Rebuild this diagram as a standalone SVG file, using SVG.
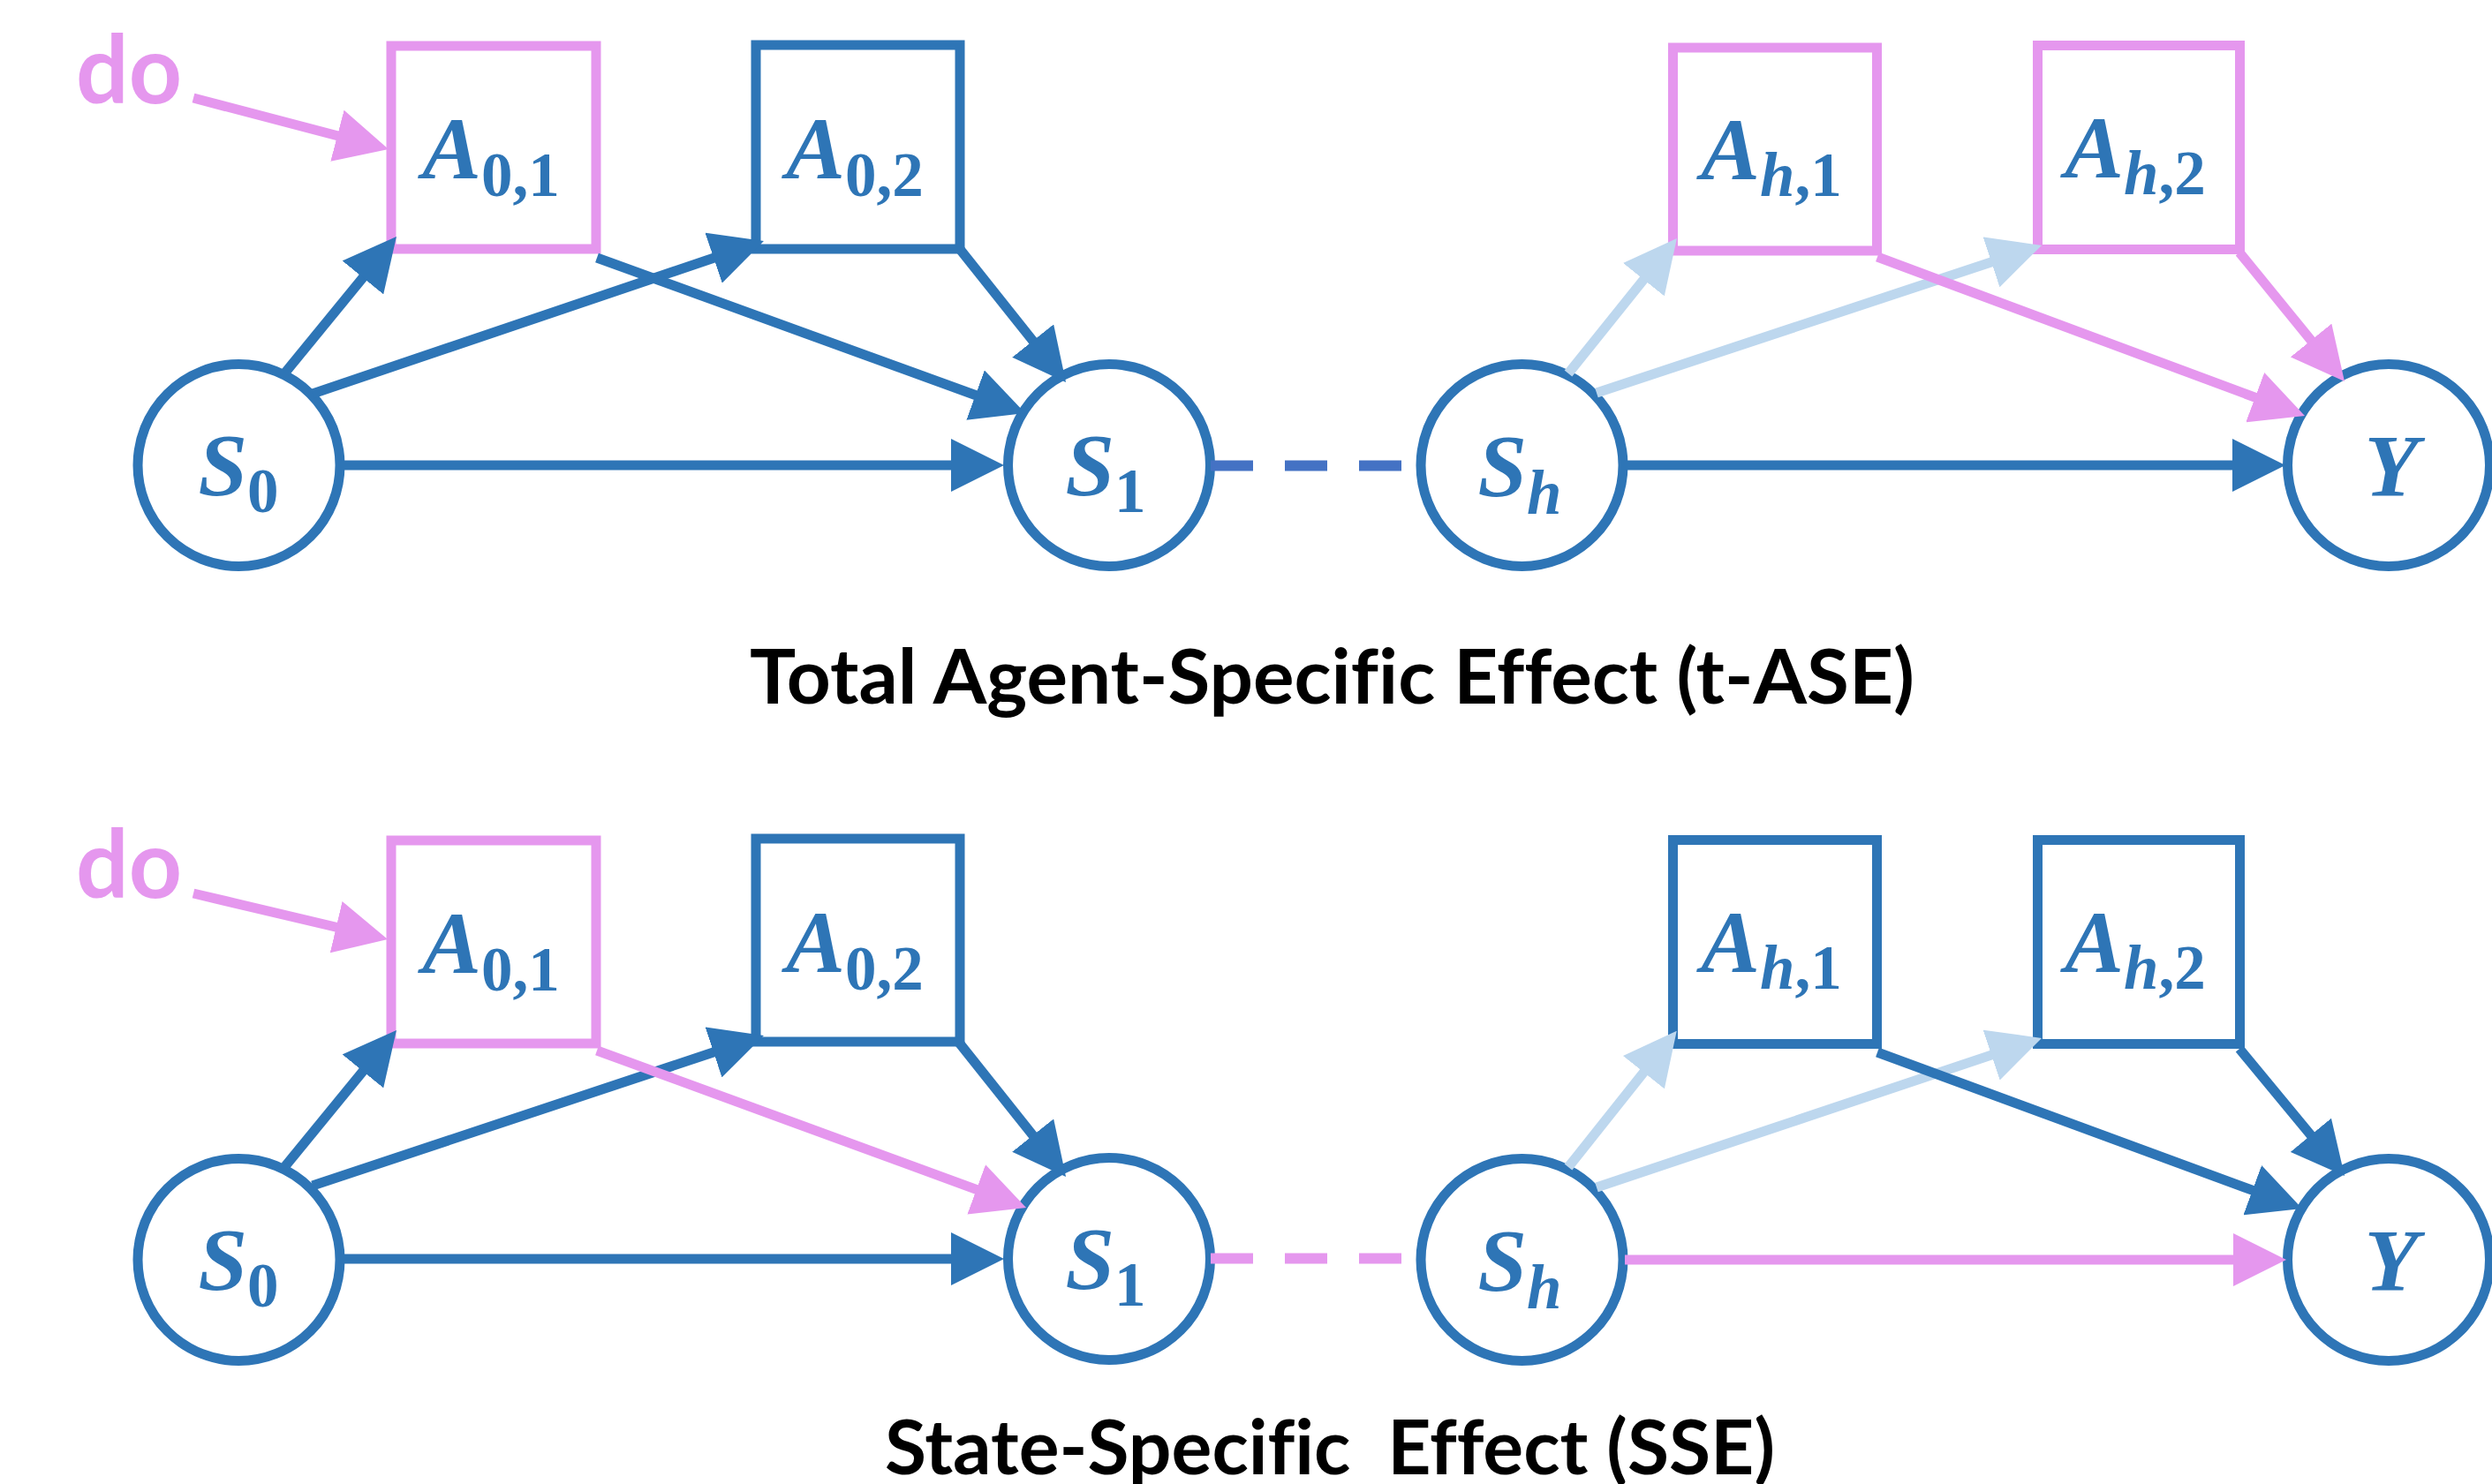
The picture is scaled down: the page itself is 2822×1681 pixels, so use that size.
<svg xmlns="http://www.w3.org/2000/svg" width="2822" height="1681" viewBox="0 0 2822 1681">
  <style>
    .state { fill: #FFFFFF; stroke: #2E75B6; stroke-width: 11; }
    .act { fill: #FFFFFF; stroke-width: 11; }
    .act.blue { stroke: #2E75B6; }
    .act.pink { stroke: #E597EE; }
    .lbl { font-family: "Liberation Serif", "DejaVu Serif", serif; font-weight: bold; font-style: italic; font-size: 100px; fill: #2E75B6; text-anchor: middle; }
    .sub { font-size: 71px; font-style: normal; }
    .subi { font-size: 71px; font-style: italic; }
    .edge { fill: none; stroke-width: 11; }
    .e-blue { stroke: #2E75B6; }
    .e-pink { stroke: #E597EE; }
    .e-light { stroke: #BDD7EE; }
    .dash { fill: none; stroke-width: 12; stroke-dasharray: 48 36; }
    .do { font-family: Lato, "Open Sans", "Liberation Sans", sans-serif; font-weight: bold; font-size: 108px; fill: #E597EE; }
    .title { font-family: Lato, "Open Sans", "Liberation Sans", sans-serif; font-weight: bold; font-size: 87px; fill: #000000; font-variant-ligatures: none; font-feature-settings: "liga" 0, "clig" 0; }
  </style>
  <defs>
    <marker id="ah-blue" viewBox="0 0 60 60" markerWidth="60" markerHeight="60" markerUnits="userSpaceOnUse" refX="10" refY="30" orient="auto">
      <path d="M0,0 L60,30 L0,60 Z" fill="#2E75B6"/>
    </marker>
    <marker id="ah-pink" viewBox="0 0 60 60" markerWidth="60" markerHeight="60" markerUnits="userSpaceOnUse" refX="10" refY="30" orient="auto">
      <path d="M0,0 L60,30 L0,60 Z" fill="#E597EE"/>
    </marker>
    <marker id="ah-light" viewBox="0 0 60 60" markerWidth="60" markerHeight="60" markerUnits="userSpaceOnUse" refX="10" refY="30" orient="auto">
      <path d="M0,0 L60,30 L0,60 Z" fill="#BDD7EE"/>
    </marker>
  </defs>

  <rect width="2822" height="1681" fill="#FFFFFF"/>

  <!-- ===== Upper panel: t-ASE ===== -->
  <g id="top-nodes">
    <g id="t-S0"><circle class="state" cx="270.5" cy="527" r="114.5"/>
      <text class="lbl" x="270" y="560">S<tspan class="sub" dy="20">0</tspan></text></g>
    <g id="t-S1"><circle class="state" cx="1256" cy="527" r="114.5"/>
      <text class="lbl" x="1252" y="560">S<tspan class="sub" dy="20">1</tspan></text></g>
    <g id="t-Sh"><circle class="state" cx="1723.5" cy="527" r="114.5"/>
      <text class="lbl" x="1721" y="561">S<tspan class="subi" dy="21">h</tspan></text></g>
    <g id="t-Y"><circle class="state" cx="2705" cy="527" r="114.5"/>
      <text class="lbl" x="2708" y="561">Y</text></g>
    <g id="t-A01"><rect class="act pink" x="443" y="52" width="232" height="230"/>
      <text class="lbl" x="556" y="202">A<tspan class="sub" dy="20">0,1</tspan></text></g>
    <g id="t-A02"><rect class="act blue" x="856" y="51" width="231" height="231"/>
      <text class="lbl" x="968" y="202">A<tspan class="sub" dy="20">0,2</tspan></text></g>
    <g id="t-Ah1"><rect class="act pink" x="1894.5" y="54" width="231" height="230"/>
      <text class="lbl" x="2006" y="203">A<tspan class="subi" dy="19">h</tspan><tspan class="sub">,1</tspan></text></g>
    <g id="t-Ah2"><rect class="act pink" x="2307.5" y="51.5" width="229" height="231"/>
      <text class="lbl" x="2418" y="201">A<tspan class="subi" dy="19">h</tspan><tspan class="sub">,2</tspan></text></g>
    <g id="t-do"><text class="do" x="86" y="117" textLength="120" lengthAdjust="spacingAndGlyphs">do</text></g>
  </g>

  <g id="top-edges">
    <path class="edge e-light" d="M1776,423 L1867.6,308.9" marker-end="url(#ah-light)"/>
    <path class="edge e-light" d="M1808,445 L2264.5,293.7" marker-end="url(#ah-light)"/>
    <path class="edge e-pink" d="M219,111 L391.6,156.3" marker-end="url(#ah-pink)"/>
    <path class="edge e-blue" d="M323,422 L417.3,306.7" marker-end="url(#ah-blue)"/>
    <path class="edge e-blue" d="M354,446 L817.6,289" stroke-width="12" marker-end="url(#ah-blue)"/>
    <path class="edge e-blue" d="M676,292 L1114,451" marker-end="url(#ah-blue)"/>
    <path class="edge e-blue" d="M1086,281 L1175.9,393.9" marker-end="url(#ah-blue)"/>
    <path class="edge e-blue" d="M385,527 L1087,527" marker-end="url(#ah-blue)"/>
    <path class="dash" stroke="#4472C4" d="M1371,527.5 H1590"/>
    <path class="edge e-pink" d="M2126,291 L2563.1,453.6" marker-end="url(#ah-pink)"/>
    <path class="edge e-pink" d="M2536,286 L2623.4,393.3" marker-end="url(#ah-pink)"/>
    <path class="edge e-blue" d="M1840,527 L2538,527" marker-end="url(#ah-blue)"/>
  </g>

  <text id="title-top" class="title" x="849" y="797" textLength="1319" lengthAdjust="spacingAndGlyphs">Total Agent-Specific Effect (t-ASE)</text>

  <!-- ===== Lower panel: SSE ===== -->
  <g id="bottom-nodes">
    <g id="b-S0"><circle class="state" cx="270.5" cy="1427" r="114.5"/>
      <text class="lbl" x="270" y="1460">S<tspan class="sub" dy="20">0</tspan></text></g>
    <g id="b-S1"><circle class="state" cx="1256" cy="1426" r="114.5"/>
      <text class="lbl" x="1252" y="1459">S<tspan class="sub" dy="20">1</tspan></text></g>
    <g id="b-Sh"><circle class="state" cx="1723.5" cy="1427" r="114.5"/>
      <text class="lbl" x="1721" y="1461">S<tspan class="subi" dy="21">h</tspan></text></g>
    <g id="b-Y"><circle class="state" cx="2705" cy="1427" r="114.5"/>
      <text class="lbl" x="2708" y="1461">Y</text></g>
    <g id="b-A01"><rect class="act pink" x="443" y="952" width="232" height="230"/>
      <text class="lbl" x="556" y="1102">A<tspan class="sub" dy="20">0,1</tspan></text></g>
    <g id="b-A02"><rect class="act blue" x="856" y="950" width="231" height="230"/>
      <text class="lbl" x="968" y="1101">A<tspan class="sub" dy="20">0,2</tspan></text></g>
    <g id="b-Ah1"><rect class="act blue" x="1894.5" y="951.5" width="231" height="231"/>
      <text class="lbl" x="2006" y="1101">A<tspan class="subi" dy="19">h</tspan><tspan class="sub">,1</tspan></text></g>
    <g id="b-Ah2"><rect class="act blue" x="2307.5" y="951.5" width="229" height="231"/>
      <text class="lbl" x="2418" y="1101">A<tspan class="subi" dy="19">h</tspan><tspan class="sub">,2</tspan></text></g>
    <g id="b-do"><text class="do" x="86" y="1017" textLength="120" lengthAdjust="spacingAndGlyphs">do</text></g>
  </g>

  <g id="bottom-edges">
    <path class="edge e-light" d="M1776,1322 L1867.6,1206.9" marker-end="url(#ah-light)"/>
    <path class="edge e-light" d="M1808,1345 L2264.6,1191.9" marker-end="url(#ah-light)"/>
    <path class="edge e-pink" d="M219,1012 L390.4,1052.5" marker-end="url(#ah-pink)"/>
    <path class="edge e-blue" d="M323,1321 L417.3,1205.7" marker-end="url(#ah-blue)"/>
    <path class="edge e-blue" d="M354,1343 L817.5,1188.8" stroke-width="12" marker-end="url(#ah-blue)"/>
    <path class="edge e-pink" d="M676,1190 L1115.1,1350.8" marker-end="url(#ah-pink)"/>
    <path class="edge e-blue" d="M1086,1181 L1175.9,1293.9" marker-end="url(#ah-blue)"/>
    <path class="edge e-blue" d="M385,1426 L1087,1426" marker-end="url(#ah-blue)"/>
    <path class="dash" stroke="#E597EE" d="M1371,1425.5 H1590"/>
    <path class="edge e-blue" d="M2126,1192 L2560.1,1351.7" marker-end="url(#ah-blue)"/>
    <path class="edge e-blue" d="M2536,1188 L2623.2,1293.5" marker-end="url(#ah-blue)"/>
    <path class="edge e-pink" d="M1840,1427 L2539,1427" marker-end="url(#ah-pink)"/>
  </g>

  <text id="title-bottom" class="title" x="1002" y="1670" textLength="1008" lengthAdjust="spacingAndGlyphs" xml:space="preserve">State-Specific  Effect (SSE)</text>
</svg>
